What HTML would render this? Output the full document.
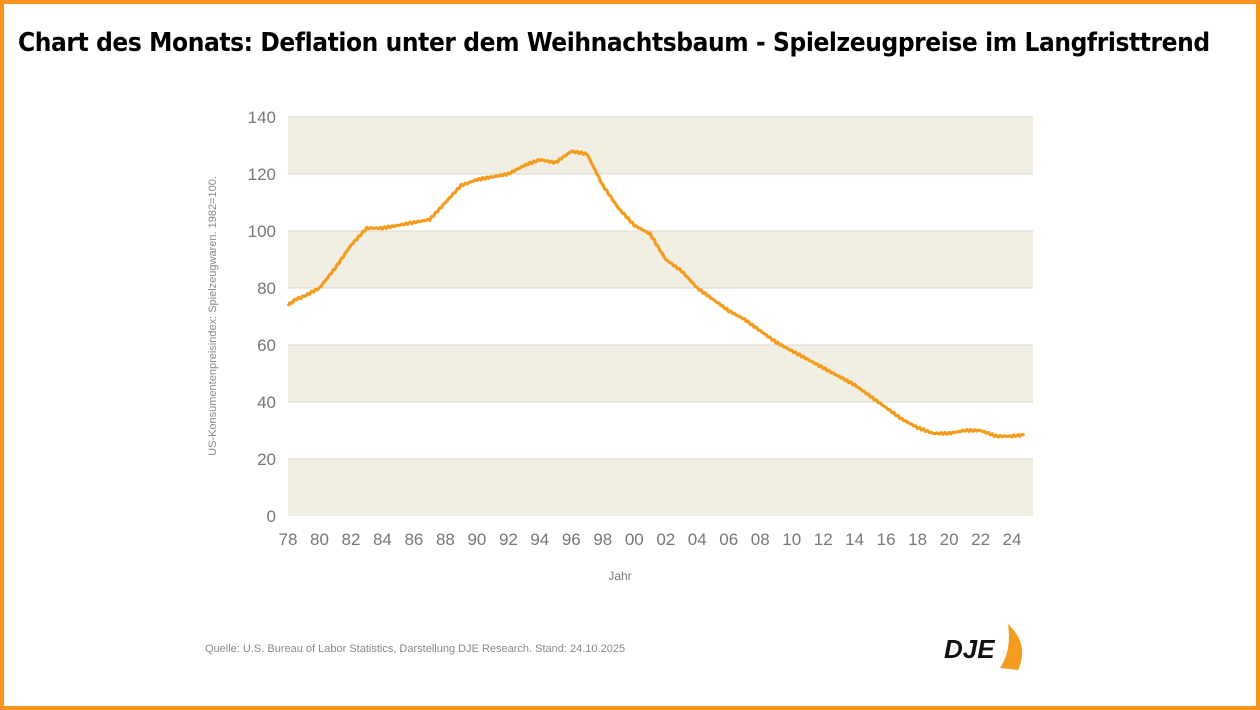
<!DOCTYPE html>
<html><head><meta charset="utf-8"><style>
html,body{margin:0;padding:0}
body{width:1260px;height:710px;position:relative;background:#fff;overflow:hidden;font-family:"Liberation Sans",sans-serif}
.frame{position:absolute;left:0;top:0;width:1252px;height:702px;border:4px solid #f7931e}
h1{position:absolute;left:18px;top:28px;margin:0;font-size:26px;font-weight:bold;color:#000;letter-spacing:-0.4px;font-family:"DejaVu Sans Condensed","Liberation Sans",sans-serif}
</style></head><body>
<div class="frame"></div>
<h1>Chart des Monats: Deflation unter dem Weihnachtsbaum - Spielzeugpreise im Langfristtrend</h1>
<svg width="1260" height="710" style="position:absolute;left:0;top:0" font-family="Liberation Sans, sans-serif">
<g fill="#f1eee4">
<rect x="288" y="117" width="745" height="57"/>
<rect x="288" y="231" width="745" height="57"/>
<rect x="288" y="345" width="745" height="57"/>
<rect x="288" y="459" width="745" height="57"/>
</g>
<g stroke="#dcd8cc" stroke-width="1">
<line x1="288" y1="117" x2="1033" y2="117"/><line x1="288" y1="174" x2="1033" y2="174"/>
<line x1="288" y1="231" x2="1033" y2="231"/><line x1="288" y1="288" x2="1033" y2="288"/>
<line x1="288" y1="345" x2="1033" y2="345"/><line x1="288" y1="402" x2="1033" y2="402"/>
<line x1="288" y1="459" x2="1033" y2="459"/>
</g>
<g fill="#777" font-size="17" text-anchor="end">
<text x="276" y="123">140</text><text x="276" y="180">120</text><text x="276" y="237">100</text>
<text x="276" y="294">80</text><text x="276" y="351">60</text><text x="276" y="408">40</text>
<text x="276" y="465">20</text><text x="276" y="522">0</text>
</g>
<g id="xt" fill="#777" font-size="17" text-anchor="middle"></g>
<text x="620" y="580" fill="#777" font-size="12" text-anchor="middle">Jahr</text>
<text transform="translate(216,316) rotate(-90)" fill="#888" font-size="11" text-anchor="middle">US-Konsumentenpreisindex: Spielzeugwaren. 1982=100.</text>
<text x="205" y="652" fill="#888" font-size="11">Quelle: U.S. Bureau of Labor Statistics, Darstellung DJE Research. Stand: 24.10.2025</text>
<path id="ln" fill="none" stroke="#f39c1e" stroke-width="3.2" stroke-linejoin="round"/>
<text x="944" y="658" font-size="26" font-weight="bold" font-style="italic" fill="#111">DJE</text>
<path d="M1008 624 Q1030 645 1018 670 L1000 668 Q1012 650 1008 624Z" fill="#f39c1e"/>
</svg>
<script>
var xt=document.getElementById('xt'),s='';
for(var y=1978;y<=2024;y+=2){var x=288+(y-1978)*15.74;s+='<text x="'+x.toFixed(1)+'" y="545">'+String(y%100).padStart(2,'0')+'</text>';}
xt.innerHTML=s;
var d=[[78,74],[78.5,76],[79,77],[80,80],[81,87],[82,95],[83,101],[84,101],[85,102],[86,103],[87,104],[88,110],[89,116],[90,118],[91,119],[92,120],[93,123],[94,125],[95,124],[96,128],[97,127],[98,116],[99,108],[100,102],[101,99],[102,90],[103,86],[104,80],[105,76],[106,72],[107,69],[108,65],[109,61],[110,58],[111,55],[112,52],[113,49],[114,46],[115,42],[116,38],[117,34],[118,31],[119,29],[120,29],[121,30],[122,30],[123,28],[124,28],[124.8,28.5]];
var p='',i,pts=[];
for(i=0;i<d.length-1;i++){var a=d[i],b=d[i+1];for(var t=0;t<1;t+=0.125){var yr=a[0]+(b[0]-a[0])*t,v=a[1]+(b[1]-a[1])*t+(Math.sin(yr*23.1)*0.35);pts.push([yr,v]);}}
pts.push(d[d.length-1]);
pts.forEach(function(q,k){p+=(k?'L':'M')+(288+(q[0]-78)*15.74).toFixed(1)+' '+(516-q[1]*2.85).toFixed(1);});
document.getElementById('ln').setAttribute('d',p);
</script>
</body></html>
